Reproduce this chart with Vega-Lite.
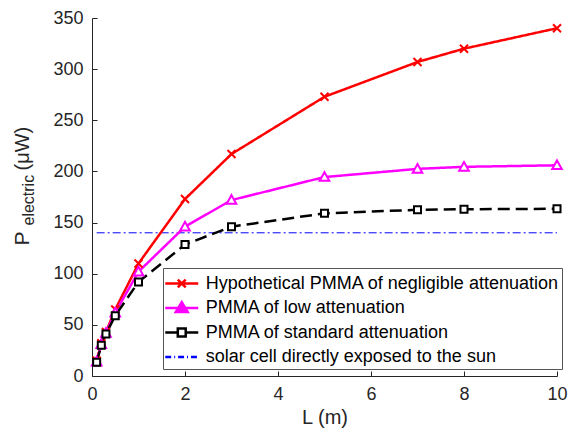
{
  "$schema": "https://vega.github.io/schema/vega-lite/v6.json",
  "width": 465,
  "height": 358,
  "autosize": {"type": "none"},
  "padding": {"left": 92, "top": 18, "right": 13, "bottom": 59},
  "background": "white",
  "config": {
    "view": {"stroke": null},
    "axis": {
      "labelFont": "Liberation Sans",
      "labelFontSize": 18,
      "labelColor": "#262626",
      "titleFont": "Liberation Sans",
      "titleFontWeight": "normal",
      "titleColor": "#262626",
      "domainColor": "#262626",
      "tickColor": "#262626",
      "grid": false,
      "tickSize": -5,
      "labelPadding": 14,
      "labelFlush": false,
      "labelOverlap": false,
      "domainWidth": 1,
      "tickWidth": 1
    },
    "legend": {
      "labelFont": "Liberation Sans", "labelFontSize": 18, "labelColor": "#000000", "labelLimit": 600,
      "symbolSize": 484, "symbolStrokeWidth": 2.5, "symbolOpacity": 1,
      "padding": 3, "rowPadding": 2.5, "labelOffset": 11.5, "symbolOffset": 3.25,
      "strokeColor": "#555555", "fillColor": "white", "cornerRadius": 0
    }
  },
  "datasets": {
    "curves": [
      {"series": "Hypothetical PMMA of negligible attenuation", "L": 0.1, "P": 15},
      {"series": "Hypothetical PMMA of negligible attenuation", "L": 0.2, "P": 32},
      {"series": "Hypothetical PMMA of negligible attenuation", "L": 0.3, "P": 43},
      {"series": "Hypothetical PMMA of negligible attenuation", "L": 0.5, "P": 65},
      {"series": "Hypothetical PMMA of negligible attenuation", "L": 1, "P": 110},
      {"series": "Hypothetical PMMA of negligible attenuation", "L": 2, "P": 173},
      {"series": "Hypothetical PMMA of negligible attenuation", "L": 3, "P": 217},
      {"series": "Hypothetical PMMA of negligible attenuation", "L": 5, "P": 273},
      {"series": "Hypothetical PMMA of negligible attenuation", "L": 7, "P": 307},
      {"series": "Hypothetical PMMA of negligible attenuation", "L": 8, "P": 320},
      {"series": "Hypothetical PMMA of negligible attenuation", "L": 10, "P": 340},
      {"series": "PMMA of low attenuation", "L": 0.1, "P": 14},
      {"series": "PMMA of low attenuation", "L": 0.2, "P": 31},
      {"series": "PMMA of low attenuation", "L": 0.3, "P": 42},
      {"series": "PMMA of low attenuation", "L": 0.5, "P": 62},
      {"series": "PMMA of low attenuation", "L": 1, "P": 102},
      {"series": "PMMA of low attenuation", "L": 2, "P": 146},
      {"series": "PMMA of low attenuation", "L": 3, "P": 172},
      {"series": "PMMA of low attenuation", "L": 5, "P": 194.5},
      {"series": "PMMA of low attenuation", "L": 7, "P": 202.5},
      {"series": "PMMA of low attenuation", "L": 8, "P": 204.5},
      {"series": "PMMA of low attenuation", "L": 10, "P": 206},
      {"series": "PMMA of standard attenuation", "L": 0.1, "P": 13.5},
      {"series": "PMMA of standard attenuation", "L": 0.2, "P": 30},
      {"series": "PMMA of standard attenuation", "L": 0.3, "P": 41},
      {"series": "PMMA of standard attenuation", "L": 0.5, "P": 59},
      {"series": "PMMA of standard attenuation", "L": 1, "P": 92},
      {"series": "PMMA of standard attenuation", "L": 2, "P": 128.5},
      {"series": "PMMA of standard attenuation", "L": 3, "P": 146},
      {"series": "PMMA of standard attenuation", "L": 5, "P": 159},
      {"series": "PMMA of standard attenuation", "L": 7, "P": 162.5},
      {"series": "PMMA of standard attenuation", "L": 8, "P": 163},
      {"series": "PMMA of standard attenuation", "L": 10, "P": 163.5}
    ],
    "sun": [
      {"series": "solar cell directly exposed to the sun", "L": 0.1, "P": 140},
      {"series": "solar cell directly exposed to the sun", "L": 10, "P": 140}
    ],
    "keys": [
      {"series": "Hypothetical PMMA of negligible attenuation", "L": 5, "P": 100},
      {"series": "PMMA of low attenuation", "L": 5, "P": 100},
      {"series": "PMMA of standard attenuation", "L": 5, "P": 100},
      {"series": "solar cell directly exposed to the sun", "L": 5, "P": 100}
    ]
  },
  "encoding": {
    "x": {
      "field": "L",
      "type": "quantitative",
      "scale": {"domain": [0, 10], "nice": false},
      "axis": {"values": [0, 2, 4, 6, 8, 10], "title": "L (m)", "titleFontSize": 20, "titlePadding": 4}
    }
  },
  "layer": [
    {
      "data": {"name": "keys"},
      "mark": {"type": "point", "filled": false, "opacity": 0},
      "encoding": {
        "y": {
          "field": "P", "type": "quantitative",
          "scale": {"domain": [0, 350], "nice": false},
          "axis": {"orient": "left", "title": "electric", "titleFontSize": 16, "domain": false, "ticks": false, "labels": false, "titleX": -59, "titleY": 207, "titleAngle": -90, "titleAlign": "left", "titleBaseline": "alphabetic"}
        },
        "color": {
          "field": "series", "type": "nominal",
          "scale": {
            "domain": ["Hypothetical PMMA of negligible attenuation", "PMMA of low attenuation", "PMMA of standard attenuation", "solar cell directly exposed to the sun"],
            "range": ["#FF0000", "#FF00FF", "#000000", "#0000FF"]
          },
          "legend": {"orient": "none", "legendX": 71, "legendY": 250, "title": null}
        },
        "shape": {
          "field": "series", "type": "nominal",
          "scale": {
            "domain": ["Hypothetical PMMA of negligible attenuation", "PMMA of low attenuation", "PMMA of standard attenuation", "solar cell directly exposed to the sun"],
            "range": [
              "M-1.5,0H1.5M-0.36,-0.36L0.36,0.36M-0.36,0.36L0.36,-0.36",
              "M-1.5,0H1.5M0,-0.54L0.54,0.36L-0.54,0.36ZM0,-0.24L0.24,0.165L-0.24,0.165Z",
              "M-1.5,0H-0.36M0.36,0H1.5M-0.36,-0.36H0.36V0.36H-0.36Z",
              "M-1.5,0H-0.96M-0.69,0H-0.6M-0.33,0H0.21M0.48,0H0.57M0.84,0H1.38"
            ]
          },
          "legend": {"orient": "none", "legendX": 71, "legendY": 250, "title": null}
        }
      }
    },
    {
      "data": {"name": "sun"},
      "mark": {"type": "line", "color": "#0000FF", "strokeWidth": 1, "strokeDash": [8, 3, 2, 3]},
      "encoding": {
        "y": {
          "field": "P", "type": "quantitative",
          "scale": {"domain": [0, 350], "nice": false},
          "axis": {"orient": "left", "title": "(μW)", "titleFontSize": 20, "domain": false, "ticks": false, "labels": false, "titleX": -64, "titleY": 152, "titleAngle": -90, "titleAlign": "left", "titleBaseline": "alphabetic"}
        }
      }
    },
    {
      "data": {"name": "curves"},
      "mark": {"type": "line", "strokeWidth": 2.5},
      "encoding": {
        "y": {
          "field": "P", "type": "quantitative",
          "scale": {"domain": [0, 350], "nice": false},
          "axis": {"orient": "left", "values": [0, 50, 100, 150, 200, 250, 300, 350], "title": "P", "titleFontSize": 21, "titleX": -64, "titleY": 227, "titleAngle": -90, "titleAlign": "left", "titleBaseline": "alphabetic"}
        },
        "stroke": {
          "field": "series", "type": "nominal",
          "scale": {"domain": ["Hypothetical PMMA of negligible attenuation", "PMMA of low attenuation", "PMMA of standard attenuation"], "range": ["#FF0000", "#FF00FF", "#000000"]},
          "legend": null
        },
        "strokeDash": {
          "field": "series", "type": "nominal",
          "scale": {"domain": ["Hypothetical PMMA of negligible attenuation", "PMMA of low attenuation", "PMMA of standard attenuation"], "range": [[1, 0], [1, 0], [12, 6]]},
          "legend": null
        }
      }
    },
    {
      "data": {"name": "curves"},
      "transform": [{"filter": "datum.series === 'Hypothetical PMMA of negligible attenuation'"}],
      "mark": {"type": "point", "shape": "M-1,-1L1,1M-1,1L1,-1", "fill": "white", "stroke": "#FF0000", "strokeWidth": 2, "opacity": 1, "size": 64},
      "encoding": {
        "y": {"field": "P", "type": "quantitative", "scale": {"domain": [0, 350], "nice": false}, "axis": null}
      }
    },
    {
      "data": {"name": "curves"},
      "transform": [{"filter": "datum.series === 'PMMA of low attenuation'"}],
      "mark": {"type": "point", "shape": "M0,-1.22L1.2,0.95L-1.2,0.95Z", "fill": "white", "stroke": "#FF00FF", "strokeWidth": 2, "opacity": 1, "size": 64},
      "encoding": {
        "y": {"field": "P", "type": "quantitative", "scale": {"domain": [0, 350], "nice": false}, "axis": null}
      }
    },
    {
      "data": {"name": "curves"},
      "transform": [{"filter": "datum.series === 'PMMA of standard attenuation'"}],
      "mark": {"type": "point", "shape": "M-0.875,-0.875H0.875V0.875H-0.875Z", "fill": "white", "stroke": "#000000", "strokeWidth": 2, "opacity": 1, "size": 64},
      "encoding": {
        "y": {"field": "P", "type": "quantitative", "scale": {"domain": [0, 350], "nice": false}, "axis": null}
      }
    }
  ],
  "resolve": {"scale": {"y": "independent"}}
}
